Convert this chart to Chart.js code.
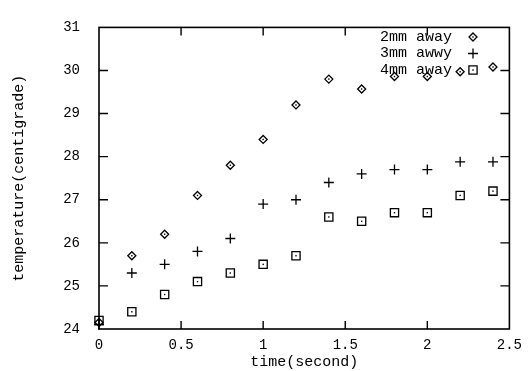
<!DOCTYPE html>
<html>
<head>
<meta charset="utf-8">
<script src="https://cdn.jsdelivr.net/npm/chart.js@4.4.1/dist/chart.umd.min.js"></script>
<style>
  html, body { margin: 0; padding: 0; background: #fff; }
</style>
</head>
<body>
<div style="position: relative; width: 530px; height: 371px;">
  <canvas id="tempChart"></canvas>
</div>
<script>
const times = [0, 0.2, 0.4, 0.6, 0.8, 1.0, 1.2, 1.4, 1.6, 1.8, 2.0, 2.2, 2.4];
const away2mm = [24.15, 25.7, 26.2, 27.1, 27.8, 28.4, 29.2, 29.8, 29.57, 29.86, 29.86, 29.97, 30.08];
const away3mm = [24.1, 25.3, 25.5, 25.8, 26.1, 26.9, 27.0, 27.4, 27.6, 27.7, 27.7, 27.88, 27.88];
const away4mm = [24.2, 24.4, 24.8, 25.1, 25.3, 25.5, 25.7, 26.6, 26.5, 26.7, 26.7, 27.1, 27.2];
const seriesLabels = ["2mm away", "3mm awwy", "4mm away"];
const xTicks = [0, 0.5, 1, 1.5, 2, 2.5];
const yTicks = [24, 25, 26, 27, 28, 29, 30, 31];

const monoFont = "'Liberation Mono', 'DejaVu Sans Mono', monospace";

const toPoints = (ys) => times.map((t, i) => ({ x: t, y: ys[i] }));

const markers = [
  { pointStyle: "rectRot", radius: 4, dot: true },
  { pointStyle: "cross", radius: 5, dot: false },
  { pointStyle: "rect", radius: 5.8, dot: true },
];

// gnuplot-ish frame: box around the plot with inward ticks on every side
const framePlugin = {
  id: "frame",
  afterDatasetsDraw(chart) {
    const { ctx, chartArea: a, scales } = chart;
    ctx.save();
    ctx.strokeStyle = "#000";
    ctx.lineWidth = 1.6;
    ctx.strokeRect(a.left, a.top, a.right - a.left, a.bottom - a.top);
    ctx.lineWidth = 1.4;
    ctx.beginPath();
    xTicks.slice(1, -1).forEach((v) => {
      const px = scales.x.getPixelForValue(v);
      ctx.moveTo(px, a.bottom); ctx.lineTo(px, a.bottom - 8);
      ctx.moveTo(px, a.top); ctx.lineTo(px, a.top + 8);
    });
    yTicks.slice(1, -1).forEach((v) => {
      const py = scales.y.getPixelForValue(v);
      ctx.moveTo(a.left, py); ctx.lineTo(a.left + 9, py);
      ctx.moveTo(a.right, py); ctx.lineTo(a.right - 9, py);
    });
    ctx.stroke();

    // small dot in the middle of diamonds and squares
    ctx.fillStyle = "#000";
    chart.data.datasets.forEach((ds, i) => {
      if (!markers[i].dot) return;
      chart.getDatasetMeta(i).data.forEach((pt) => {
        ctx.fillRect(pt.x - 0.7, pt.y - 0.7, 1.4, 1.4);
      });
    });

    // key in the top right corner, text first then symbol
    ctx.font = "15px " + monoFont;
    ctx.textAlign = "right";
    ctx.textBaseline = "middle";
    seriesLabels.forEach((label, i) => {
      const y = 37 + i * 16.5;
      ctx.fillStyle = "#000";
      ctx.fillText(label, 452, y);
      const m = markers[i];
      ctx.lineWidth = 1.3;
      ctx.fillStyle = "rgba(0,0,0,0)";
      Chart.helpers.drawPoint(ctx, { pointStyle: m.pointStyle, radius: m.radius, rotation: 0, borderWidth: 1.3 }, 473, y);
      ctx.fillStyle = "#000";
      if (m.dot) ctx.fillRect(473 - 0.7, y - 0.7, 1.4, 1.4);
    });
    ctx.restore();
  },
};

new Chart(document.getElementById("tempChart"), {
  type: "scatter",
  data: {
    datasets: [away2mm, away3mm, away4mm].map((ys, i) => ({
      label: seriesLabels[i],
      data: toPoints(ys),
      pointStyle: markers[i].pointStyle,
      pointRadius: markers[i].radius,
      pointHoverRadius: markers[i].radius,
      pointBorderWidth: 1.3,
      borderColor: "#000",
      backgroundColor: "rgba(0,0,0,0)",
      pointBackgroundColor: "rgba(0,0,0,0)",
      clip: false,
    })),
  },
  options: {
    responsive: true,
    maintainAspectRatio: false,
    animation: false,
    layout: { padding: { top: 10, right: 18, left: 0, bottom: 0 } },
    plugins: {
      legend: { display: false },
      tooltip: { enabled: false },
    },
    scales: {
      x: {
        type: "linear",
        min: 0,
        max: 2.5,
        afterBuildTicks: (scale) => { scale.ticks = xTicks.map((v) => ({ value: v })); },
        afterFit: (scale) => { scale.height = 42; },
        grid: { display: false, drawTicks: false },
        border: { display: false },
        ticks: {
          color: "#000",
          padding: 8,
          maxRotation: 0,
          font: { family: monoFont, size: 14 },
          callback: (v) => String(v),
        },
        title: {
          display: true,
          text: "time(second)",
          color: "#000",
          padding: { top: 0, bottom: 0 },
          font: { family: monoFont, size: 15 },
        },
      },
      y: {
        min: 24,
        max: 31,
        afterBuildTicks: (scale) => { scale.ticks = yTicks.map((v) => ({ value: v })); },
        afterFit: (scale) => { scale.width = 99; },
        grid: { display: false, drawTicks: false },
        border: { display: false },
        ticks: {
          color: "#000",
          padding: 19,
          font: { family: monoFont, size: 14 },
        },
        title: {
          display: true,
          text: "temperature(centigrade)",
          color: "#000",
          padding: { top: 10, bottom: 0 },
          font: { family: monoFont, size: 15 },
        },
      },
    },
  },
  plugins: [framePlugin],
});
</script>
</body>
</html>
